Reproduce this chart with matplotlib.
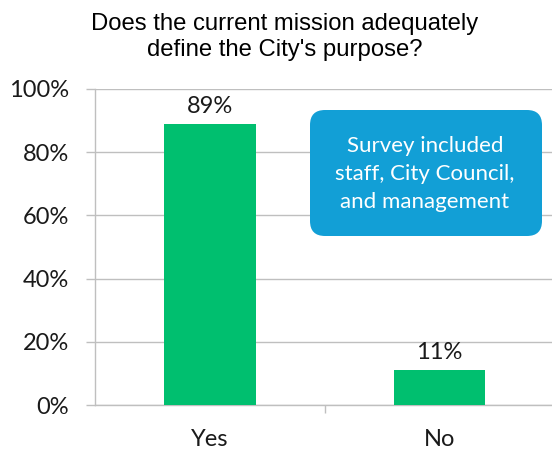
import matplotlib
matplotlib.use("Agg")
import matplotlib.pyplot as plt
from matplotlib.patches import FancyBboxPatch

categories = ["Yes", "No"]
values = [89, 11]
value_labels = ["89%", "11%"]
yticks = [0, 20, 40, 60, 80, 100]
ytick_labels = ["0%", "20%", "40%", "60%", "80%", "100%"]
title = "Does the current mission adequately\ndefine the City's purpose?"
note = "Survey included\nstaff, City Council,\nand management"

green = "#00BF6F"
blue = "#129FD6"
grid = "#BFBFBF"
font = "Lato"

fig = plt.figure(figsize=(5.52, 4.49), dpi=100)
ax = fig.add_axes([95/552, 1-405/449, 1-95/552, (405-89)/449])
x = list(range(len(categories)))
ax.bar(x, values, width=0.40, color=green, zorder=3)
ax.set_xlim(-0.5, 1.49)
ax.set_ylim(0, 100)
ax.set_yticks(yticks)
ax.set_yticklabels(ytick_labels, fontsize=17, fontfamily=font, color="#1a1a1a")
ax.set_xticks(x)
ax.set_xticklabels(categories, fontsize=17, fontfamily=font, color="#1a1a1a")
ax.tick_params(axis="x", length=0, pad=17.5)
ax.tick_params(axis="y", length=6.5, width=1, color=grid, pad=12)
ax.set_xticks([0.5], minor=True)
ax.tick_params(axis="x", which="minor", length=6, width=1, color=grid)
ax.yaxis.grid(True, color=grid, linewidth=1, zorder=0)
for s in ["top", "right"]:
    ax.spines[s].set_visible(False)
for s in ["left", "bottom"]:
    ax.spines[s].set_color(grid)
    ax.spines[s].set_linewidth(1)
for xi, v, lab in zip(x, values, value_labels):
    ax.annotate(lab, (xi, v), xytext=(0, 5), textcoords="offset points",
                ha="center", va="bottom", fontsize=17, fontfamily=font, color="#1a1a1a")

fig.text(285/552, 1-37/449, title, ha="center", va="center", fontsize=17.2,
         fontfamily="Liberation Sans", color="#000000", linespacing=1.2)

box = FancyBboxPatch((3.10, 4.49-2.36), 2.32, 1.26,
                     boxstyle="round,pad=0,rounding_size=0.15",
                     transform=fig.dpi_scale_trans, facecolor=blue,
                     edgecolor="none", zorder=5)
fig.patches.append(box)
fig.text(425/552, 1-174/449, note, ha="center", va="center", fontsize=16,
         fontfamily=font, color="white", linespacing=1.5, zorder=6)

fig.savefig("out.png", dpi=100)
